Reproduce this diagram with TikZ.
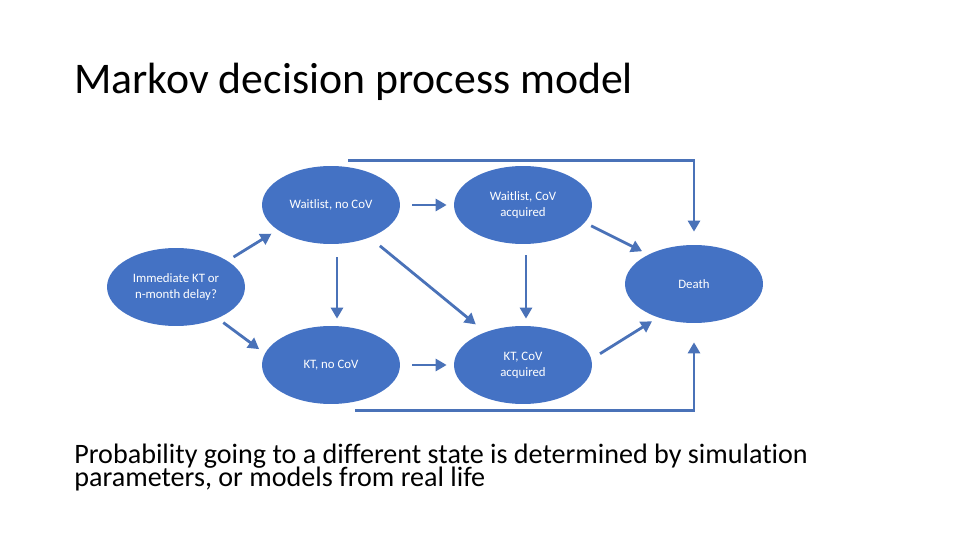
\documentclass[tikz,border=0pt]{standalone}
\usepackage{fontspec}
\setmainfont{Carlito}[Ligatures=NoCommon]
\usetikzlibrary{arrows.meta,positioning,shapes.geometric}
\definecolor{stateblue}{HTML}{4472C4}
\definecolor{flowblue}{HTML}{4A72B8}

\begin{document}
\begin{tikzpicture}[
  x=0.02cm, y=-0.02cm,
  >={Triangle[length=0.22cm, width=0.24cm]},
  mstate/.style={ellipse, fill=stateblue, draw=none, text=white, align=center,
    inner sep=0pt, minimum width=2.76cm, minimum height=1.56cm,
    font=\fontsize{7.3}{9}\selectfont},
  flow/.style={->, draw=flowblue, line width=1.6pt, shorten <=0.14cm, shorten >=0.14cm}
]
  \useasboundingbox (0,0) rectangle (960,540);

  % title and note
  \node[anchor=base west, inner sep=0pt, font=\fontsize{24.9}{30}\selectfont] (title) at (74,94) {Markov decision process model};
  \node[anchor=base west, inner sep=0pt, align=left, font={\fontsize{16}{12.8}\selectfont\lineskiplimit=-20pt}] (note) at (74,486)
    {Probability going to a different state is determined by simulation\\parameters, or models from real life};

  % states
  \node[mstate] (imm) at (176,287) {Immediate KT or\\n-month delay?};
  \node[mstate] (wno) at (331,205) {Waitlist, no CoV};
  \node[mstate] (wco) at (523,205) {Waitlist, CoV\\acquired};
  \node[mstate] (kno) at (331,365) {KT, no CoV};
  \node[mstate] (kco) at (523,365) {KT, CoV\\acquired};
  \node[mstate] (death) at (694,284) {Death};

  % transitions
  \draw[flow] (imm.27) -- (wno.205);
  \draw[flow] (imm.-37) -- (kno.170);
  \draw[flow, shorten <=0.26cm] ([xshift=0.12cm]wno.south) -- ([xshift=0.12cm]kno.north);
  \draw[flow, shorten <=0.24cm] (wno.east) -- (wco.west);
  \draw[flow, shorten <=0.26cm, shorten >=0.24cm] (wno.-40) -- (kco.139);
  \draw[flow, shorten <=0.24cm] (kno.east) -- (kco.west);
  \draw[flow, shorten <=0.22cm] ([xshift=0.06cm]wco.south) -- ([xshift=0.06cm]kco.north);
  \draw[flow] (wco.-16) -- (death.147);
  \draw[flow, shorten <=0.2cm] (kco.5) -- (death.223);
  \draw[flow, shorten <=0pt, shorten >=0.26cm] ([xshift=0.34cm, yshift=0.1cm]wno.north) -| (death.north);
  \draw[flow, shorten <=0pt, shorten >=0.38cm] ([xshift=0.48cm, yshift=-0.12cm]kno.south) -| (death.south);
\end{tikzpicture}
\end{document}
